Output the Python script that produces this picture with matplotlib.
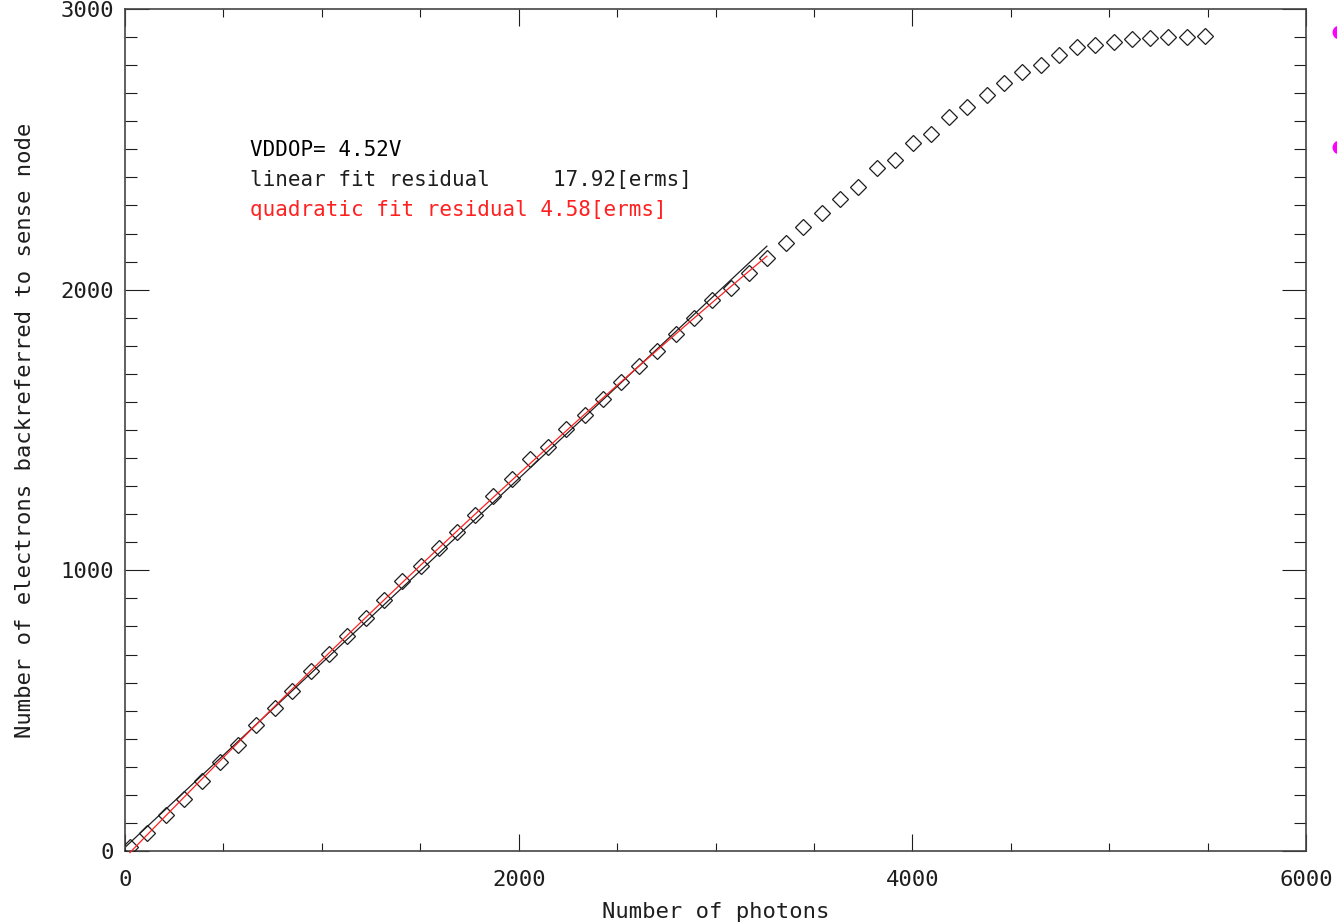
import matplotlib
matplotlib.use("Agg")
import matplotlib.pyplot as plt
import numpy as np
from matplotlib.lines import Line2D
from matplotlib.ticker import MultipleLocator

# photons vs electrons back-referred to the sense node
photons = [25, 110, 207, 298, 390, 481, 573, 664, 761, 847,
           944, 1035, 1127, 1223, 1315, 1406, 1503, 1594, 1686, 1777,
           1869, 1965, 2057, 2148, 2240, 2336, 2428, 2519, 2611, 2702,
           2799, 2890, 2982, 3078, 3170, 3261, 3358, 3444, 3541, 3632,
           3723, 3820, 3911, 4003, 4094, 4186, 4277, 4379, 4465, 4557,
           4653, 4745, 4836, 4928, 5024, 5116, 5207, 5299, 5395, 5487]
electrons = [13, 63, 127, 184, 248, 316, 377, 448, 509, 569,
             641, 701, 765, 830, 894, 962, 1015, 1079, 1136, 1197,
             1265, 1325, 1397, 1439, 1504, 1553, 1611, 1671, 1728, 1782,
             1842, 1899, 1964, 2006, 2060, 2113, 2167, 2224, 2274, 2324,
             2366, 2434, 2463, 2523, 2555, 2616, 2652, 2694, 2737, 2776,
             2801, 2837, 2866, 2873, 2883, 2894, 2898, 2901, 2901, 2905]
n_fit = 36  # points used for the fits

vddop = 4.52
lin_resid = 17.92
quad_resid = 4.58

x = np.array(photons, dtype=float)
y = np.array(electrons, dtype=float)
lin = np.polyfit(x[:n_fit], y[:n_fit], 1)
quad = np.polyfit(x[:n_fit], y[:n_fit], 2)

ink = "#1e1e1e"
red = "#ff2020"
plt.rcParams["font.family"] = ["DejaVu Sans Mono"]

fig = plt.figure(figsize=(13.37, 9.24), dpi=100)
ax = fig.add_axes([125 / 1337, 73 / 924, 1181 / 1337, 842 / 924])

ax.plot(x, y, linestyle="none", marker="D", ms=8.4, mfc="none",
        mec=ink, mew=0.9, zorder=3)
xl = np.array([0, x[n_fit - 1]])
ax.plot(xl, np.polyval(lin, xl), color=ink, lw=0.9, zorder=2)
xq = x[:n_fit]
ax.plot(xq, np.polyval(quad, xq), color=red, lw=0.9, zorder=4, clip_on=False)

ax.set_xlim(0, 6000)
ax.set_ylim(0, 3000)
ax.xaxis.set_major_locator(MultipleLocator(2000))
ax.xaxis.set_minor_locator(MultipleLocator(500))
ax.yaxis.set_major_locator(MultipleLocator(1000))
ax.yaxis.set_minor_locator(MultipleLocator(100))
ax.tick_params(axis="x", which="major", direction="in", length=12, width=0.8,
               top=True, color=ink, labelsize=16, labelcolor=ink, pad=14)
ax.tick_params(axis="x", which="minor", direction="in", length=6, width=0.8,
               top=True, color=ink)
ax.tick_params(axis="y", which="major", direction="in", length=17, width=0.8,
               right=True, color=ink, labelsize=16, labelcolor=ink, pad=8)
ax.tick_params(axis="y", which="minor", direction="in", length=8.5, width=0.8,
               right=True, color=ink)
for s in ax.spines.values():
    s.set_color("#444444")
    s.set_linewidth(1.2)

ax.set_xlabel("Number of photons", fontsize=16, color=ink, labelpad=8)
ax.set_ylabel("Number of electrons backreferred to sense node", fontsize=16,
              color=ink, labelpad=18)

ax.text(0.106, 0.832, f"VDDOP= {vddop:.2f}V", transform=ax.transAxes,
        fontsize=15, color="black", va="center")
ax.text(0.106, 0.797, f"linear fit residual     {lin_resid:.2f}[erms]",
        transform=ax.transAxes, fontsize=15, color=ink, va="center")
ax.text(0.106, 0.761, f"quadratic fit residual {quad_resid:.2f}[erms]",
        transform=ax.transAxes, fontsize=15, color=red, va="center")

# clipped legend symbols at the right edge of the picture
for yy in (1 - 32 / 924, 1 - 147 / 924):
    fig.add_artist(Line2D([1339 / 1337], [yy], transform=fig.transFigure,
                          marker="o", ms=9, color="#ff00ff", clip_on=False))

fig.savefig("out.png", dpi=100)
